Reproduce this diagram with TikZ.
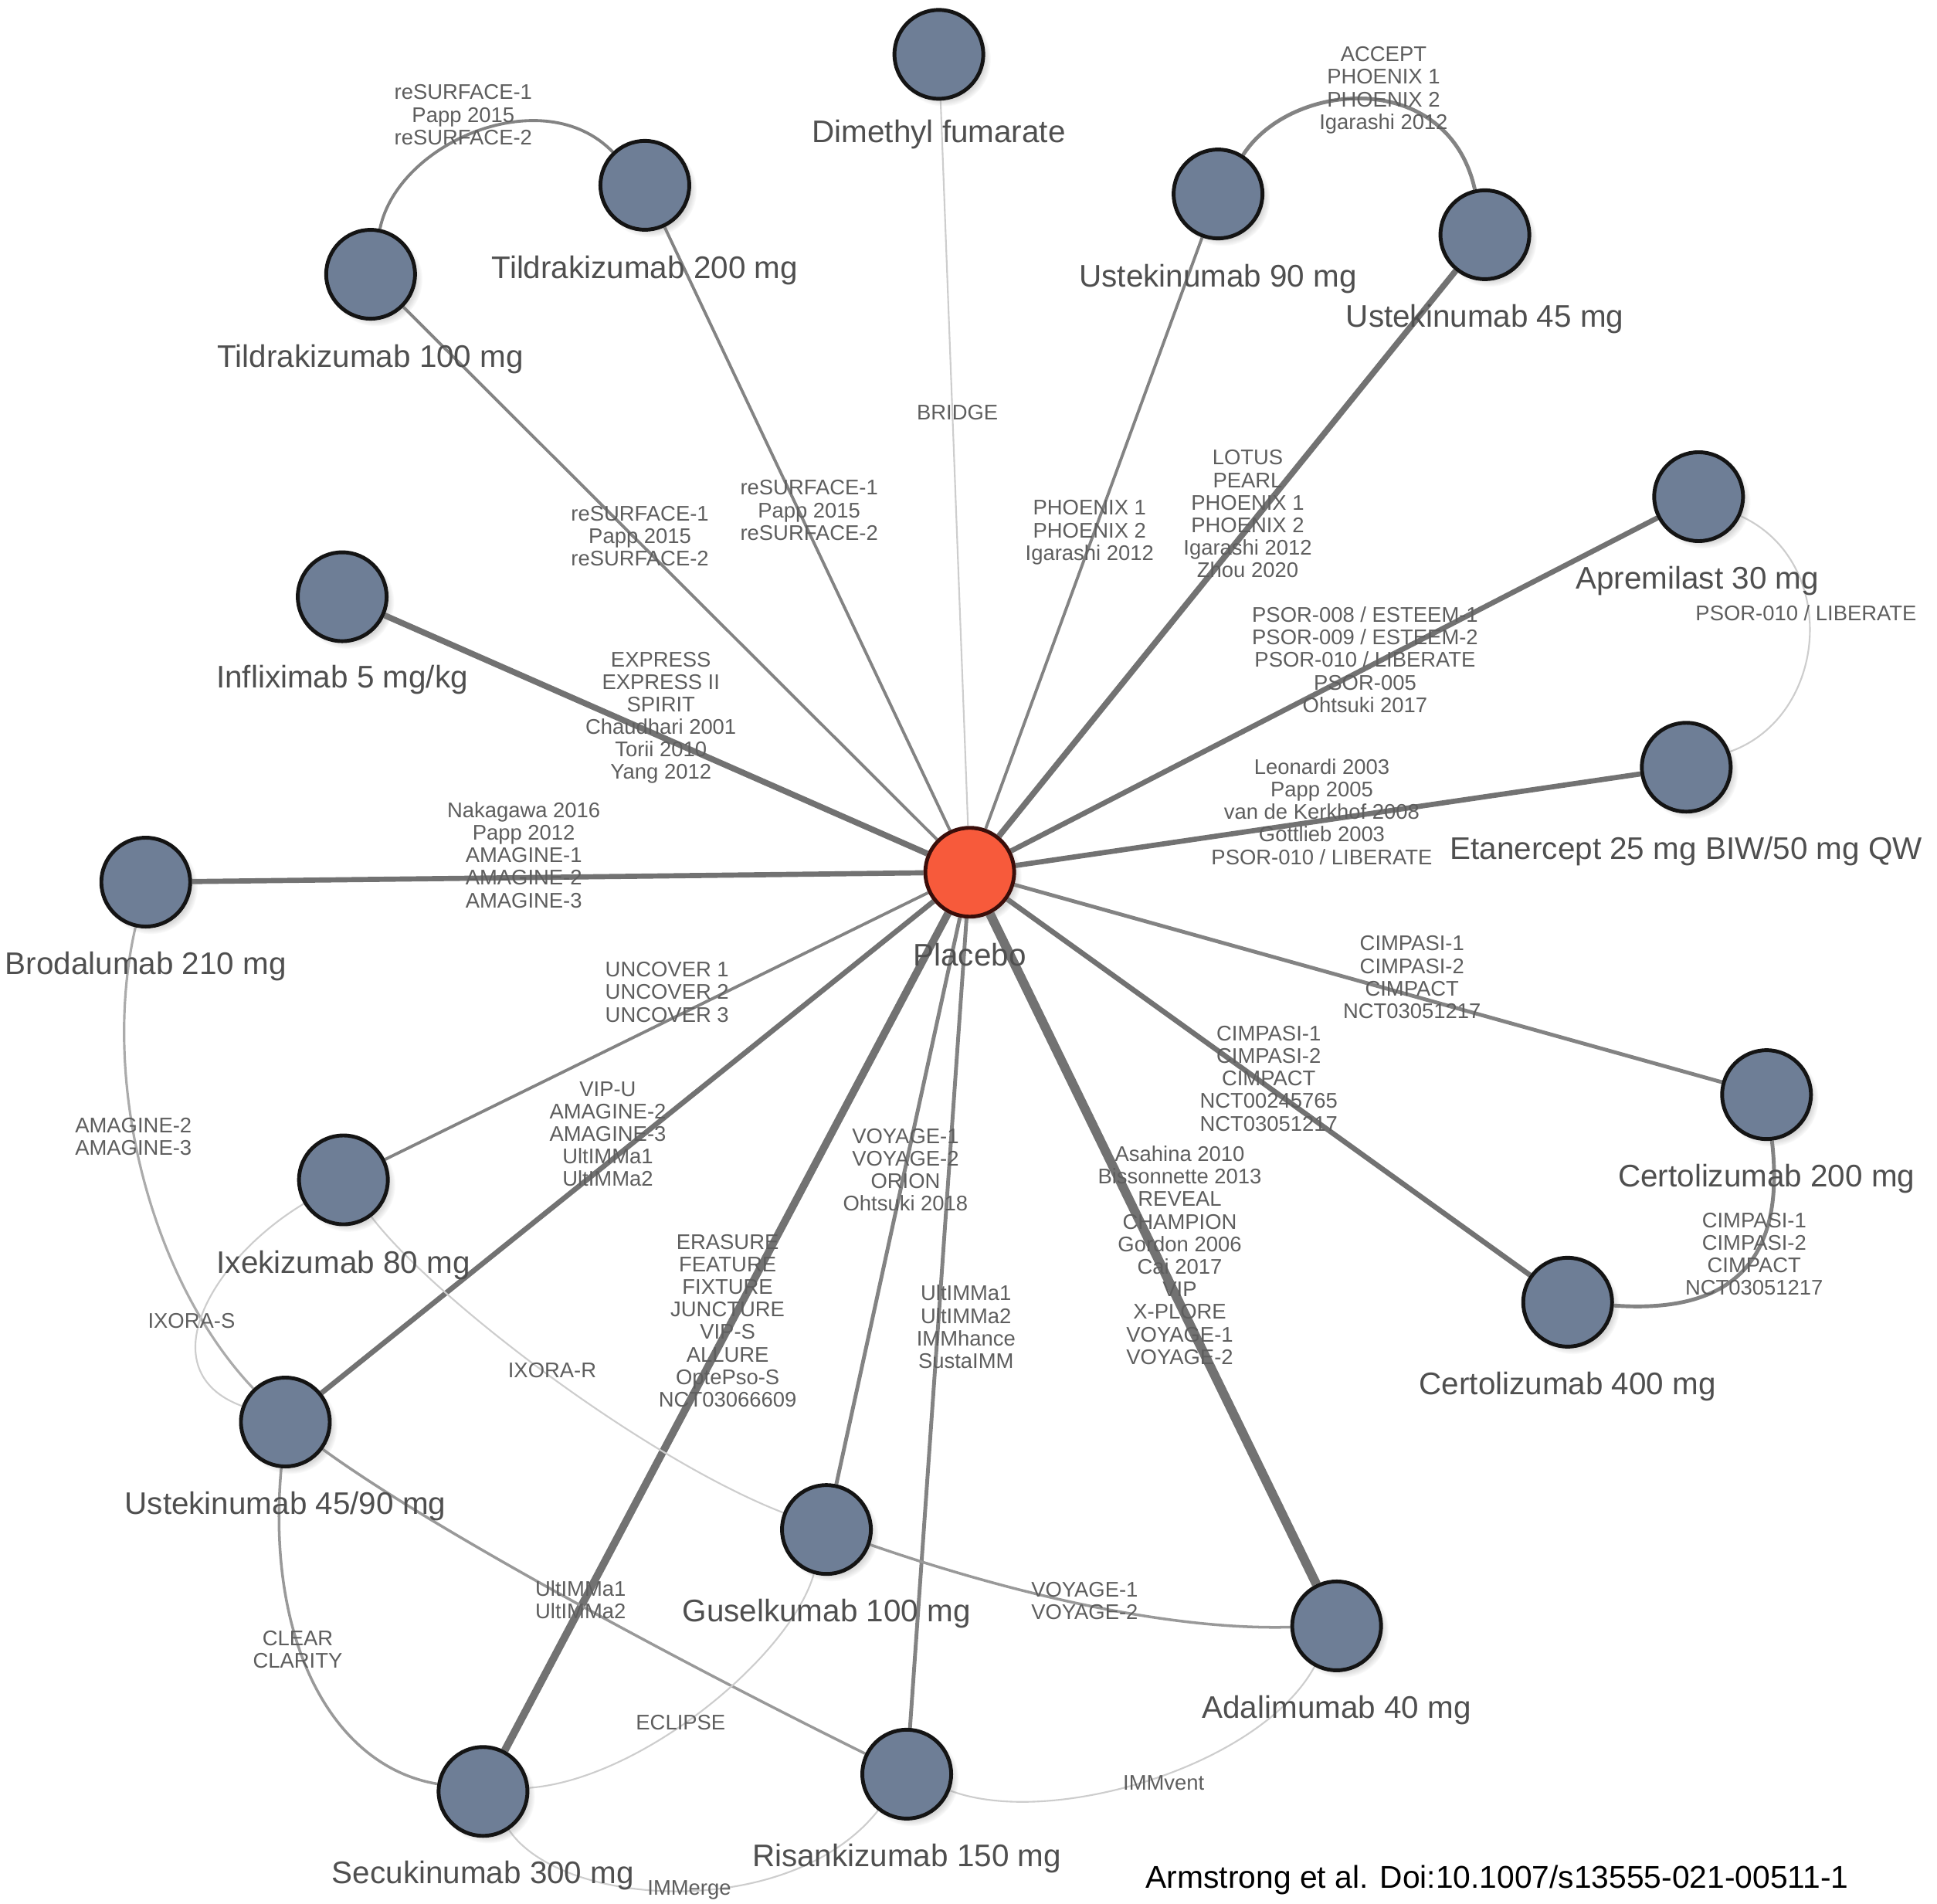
\documentclass[tikz,border=0pt]{standalone}
\usepackage{fontspec}
\setmainfont{Liberation Sans}
\usetikzlibrary{shadows}
\pgfdeclarelayer{bg}
\pgfsetlayers{bg,main}
\definecolor{nodefill}{HTML}{6E7E96}
\definecolor{placebofill}{HTML}{F75A3B}
\definecolor{placeborim}{HTML}{3A0E0A}
\definecolor{txtnode}{HTML}{4F4F4F}
\definecolor{txtedge}{HTML}{5E5E5E}
\definecolor{ethick}{HTML}{727272}
\definecolor{emid}{HTML}{838383}
\definecolor{etwo}{HTML}{999999}
\definecolor{etwolight}{HTML}{ABABAB}
\definecolor{eone}{HTML}{CDCDCD}
\tikzset{
  drug/.style={circle, draw=black!92, line width=1.4pt, fill=nodefill, minimum size=1.15cm, inner sep=0pt,
    circular drop shadow={shadow xshift=0.06cm, shadow yshift=-0.06cm, opacity=0.3, shadow scale=1.06}},
  plc/.style={drug, fill=placebofill, draw=placeborim},
  nlabel/.style={text=txtnode, font=\fontsize{11.5}{13}\selectfont, inner sep=0pt},
  elabel/.style={text=txtedge, font=\fontsize{7.8}{8.3}\selectfont, align=center, inner sep=0pt},
  caption/.style={text=black, font=\fontsize{11.6}{13}\selectfont, inner sep=0pt},
  eA/.style={draw=eone, line width=0.6pt},
  eB/.style={draw=etwo, line width=1.0pt},
  eBl/.style={draw=etwolight, line width=0.9pt},
  eC/.style={draw=emid, line width=1.1pt},
  eD/.style={draw=emid, line width=1.4pt},
  eE/.style={draw=ethick, line width=1.9pt},
  eF/.style={draw=ethick, line width=2.2pt},
  eH/.style={draw=ethick, line width=2.8pt},
  eJ/.style={draw=ethick, line width=3.4pt},
}
\begin{document}
\begin{tikzpicture}[x=0.015995cm, y=-0.015995cm]
\useasboundingbox (0,0) rectangle (1568,1541);

% ---- nodes ----
\node[drug] (dmf) at (760,44) {};
\node[drug] (t200) at (522,150) {};
\node[drug] (t100) at (300,222) {};
\node[drug] (u90) at (986,157) {};
\node[drug] (u45) at (1202,190) {};
\node[drug] (apr) at (1375,402) {};
\node[drug] (eta) at (1365,621) {};
\node[drug] (inf) at (277,483) {};
\node[drug] (bro) at (118,714) {};
\node[plc]  (pl) at (785,706) {};
\node[drug] (c200) at (1430,886) {};
\node[drug] (c400) at (1269,1054) {};
\node[drug] (ixe) at (278,955) {};
\node[drug] (u4590) at (231,1151) {};
\node[drug] (gus) at (669,1238) {};
\node[drug] (ada) at (1082,1316) {};
\node[drug] (sec) at (391,1450) {};
\node[drug] (ris) at (734,1436) {};

% ---- edges ----
\begin{pgfonlayer}{bg}
\fill[white] (0,0) rectangle (1568,1541);
\draw[eA] (pl) -- (dmf);
\draw[eC] (pl) -- (t200);
\draw[eC] (pl) -- (t100);
\draw[eC] (pl) -- (u90);
\draw[eF] (pl) -- (u45);
\draw[eE] (pl) -- (apr);
\draw[eE] (pl) -- (eta);
\draw[eF] (pl) -- (inf);
\draw[eE] (pl) -- (bro);
\draw[eC] (pl) -- (ixe);
\draw[eE] (pl) -- (u4590);
\draw[eH] (pl) -- (sec);
\draw[eD] (pl) -- (gus);
\draw[eD] (pl) -- (ris);
\draw[eJ] (pl) -- (ada);
\draw[eE] (pl) -- (c400);
\draw[eD] (pl) -- (c200);

\draw[eC] (t100) .. controls (322,115) and (440,65) .. (t200);
\draw[eD] (u90) .. controls (1045,65) and (1172,55) .. (u45);
\draw[eA] (apr) .. controls (1490,455) and (1480,580) .. (eta);
\draw[eD] (c200) .. controls (1448,1040) and (1380,1062) .. (c400);
\draw[eBl] (bro) .. controls (80,880) and (125,1040) .. (u4590);
\draw[eA] (ixe) .. controls (170,1020) and (120,1110) .. (u4590);
\draw[eA] (ixe) .. controls (350,1050) and (520,1180) .. (gus);
\draw[eB] (u4590) .. controls (215,1330) and (270,1430) .. (sec);
\draw[eB] (u4590) .. controls (360,1245) and (580,1360) .. (ris);
\draw[eA] (sec) .. controls (520,1440) and (640,1340) .. (gus);
\draw[eA] (sec) .. controls (455,1545) and (640,1555) .. (ris);
\draw[eA] (ris) .. controls (850,1480) and (1020,1430) .. (ada);
\draw[eB] (gus) .. controls (790,1280) and (930,1320) .. (ada);
\end{pgfonlayer}

% ---- node labels ----
\node[nlabel] (ldmf) at (760,109) {Dimethyl fumarate};
\node[nlabel] (lt200) at (522,219) {Tildrakizumab 200 mg};
\node[nlabel] (lt100) at (300,291) {Tildrakizumab 100 mg};
\node[nlabel] (lu90) at (986,226) {Ustekinumab 90 mg};
\node[nlabel] (lu45) at (1202,258) {Ustekinumab 45 mg};
\node[nlabel] (lapr) at (1374,470) {Apremilast 30 mg};
\node[nlabel] (leta) at (1365,689) {Etanercept 25 mg BIW/50 mg QW};
\node[nlabel] (linf) at (277,550) {Infliximab 5 mg/kg};
\node[nlabel] (lbro) at (118,782) {Brodalumab 210 mg};
\node[nlabel] (lpl) at (785,773) {Placebo};
\node[nlabel] (lc200) at (1430,954) {Certolizumab 200 mg};
\node[nlabel] (lc400) at (1269,1122) {Certolizumab 400 mg};
\node[nlabel] (lixe) at (278,1024) {Ixekizumab 80 mg};
\node[nlabel] (lu4590) at (231,1219) {Ustekinumab 45/90 mg};
\node[nlabel] (lgus) at (669,1306) {Guselkumab 100 mg};
\node[nlabel] (lada) at (1082,1384) {Adalimumab 40 mg};
\node[nlabel] (lsec) at (391,1518) {Secukinumab 300 mg};
\node[nlabel] (lris) at (734,1504) {Risankizumab 150 mg};

% ---- edge labels ----
\node[elabel] (xbridge) at (775,334) {BRIDGE};
\node[elabel] (xt200) at (655,413) {reSURFACE-1\\Papp 2015\\reSURFACE-2};
\node[elabel] (xt100) at (518,434) {reSURFACE-1\\Papp 2015\\reSURFACE-2};
\node[elabel] (xtt) at (375,93) {reSURFACE-1\\Papp 2015\\reSURFACE-2};
\node[elabel] (xu90) at (882,431) {PHOENIX 1\\PHOENIX 2\\Igarashi 2012};
\node[elabel] (xu45) at (1010,416) {LOTUS\\PEARL\\PHOENIX 1\\PHOENIX 2\\Igarashi 2012\\Zhou 2020};
\node[elabel] (xuu) at (1120,73) {ACCEPT\\PHOENIX 1\\PHOENIX 2\\Igarashi 2012};
\node[elabel] (xapr) at (1105,534) {PSOR-008 / ESTEEM-1\\PSOR-009 / ESTEEM-2\\PSOR-010 / LIBERATE\\PSOR-005\\Ohtsuki 2017};
\node[elabel] (xae) at (1462,496) {PSOR-010 / LIBERATE};
\node[elabel] (xeta) at (1070,657) {Leonardi 2003\\Papp 2005\\van de Kerkhof 2008\\Gottlieb 2003\\PSOR-010 / LIBERATE};
\node[elabel] (xinf) at (535,581) {EXPRESS\\EXPRESS II\\SPIRIT\\Chaudhari 2001\\Torii 2010\\Yang 2012};
\node[elabel] (xbro) at (424,692) {Nakagawa 2016\\Papp 2012\\AMAGINE-1\\AMAGINE-2\\AMAGINE-3};
\node[elabel] (xixe) at (540,803) {UNCOVER 1\\UNCOVER 2\\UNCOVER 3};
\node[elabel] (xu4590) at (492,918) {VIP-U\\AMAGINE-2\\AMAGINE-3\\UltIMMa1\\UltIMMa2};
\node[elabel] (xsec) at (589,1069) {ERASURE\\FEATURE\\FIXTURE\\JUNCTURE\\VIP-S\\ALLURE\\OptePso-S\\NCT03066609};
\node[elabel] (xgus) at (733,947) {VOYAGE-1\\VOYAGE-2\\ORION\\Ohtsuki 2018};
\node[elabel] (xris) at (782,1074) {UltIMMa1\\UltIMMa2\\IMMhance\\SustaIMM};
\node[elabel] (xada) at (955,1016) {Asahina 2010\\Bissonnette 2013\\REVEAL\\CHAMPION\\Gordon 2006\\Cai 2017\\VIP\\X-PLORE\\VOYAGE-1\\VOYAGE-2};
\node[elabel] (xc400) at (1027,873) {CIMPASI-1\\CIMPASI-2\\CIMPACT\\NCT00245765\\NCT03051217};
\node[elabel] (xc200) at (1143,791) {CIMPASI-1\\CIMPASI-2\\CIMPACT\\NCT03051217};
\node[elabel] (xcc) at (1420,1015) {CIMPASI-1\\CIMPASI-2\\CIMPACT\\NCT03051217};
\node[elabel] (xbu) at (108,920) {AMAGINE-2\\AMAGINE-3};
\node[elabel] (xixs) at (155,1069) {IXORA-S};
\node[elabel] (xixr) at (447,1109) {IXORA-R};
\node[elabel] (xcl) at (241,1335) {CLEAR\\CLARITY};
\node[elabel] (xult) at (470,1295) {UltIMMa1\\UltIMMa2};
\node[elabel] (xecl) at (551,1394) {ECLIPSE};
\node[elabel] (ximme) at (558,1530) {IMMerge};
\node[elabel] (ximmv) at (942,1443) {IMMvent};
\node[elabel] (xvoy) at (878,1296) {VOYAGE-1\\VOYAGE-2};

% ---- caption ----
\node[caption] (cap) at (1212,1522) {Armstrong et al. Doi:10.1007/s13555-021-00511-1};
\end{tikzpicture}
\end{document}
